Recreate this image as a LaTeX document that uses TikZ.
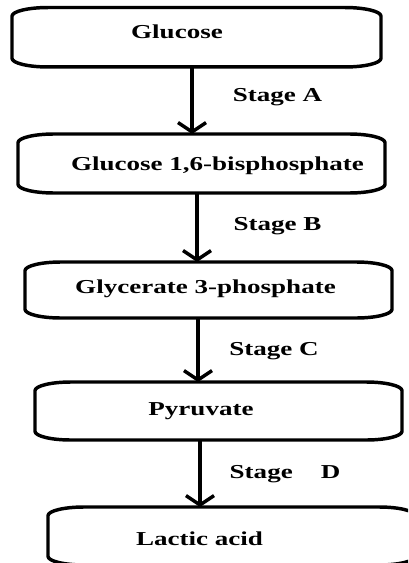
\documentclass[tikz,border=0pt]{standalone}
\usepackage{fontspec}
\newfontfamily\lblfont[FakeStretch=1.37]{Liberation Serif}
\usetikzlibrary{arrows.meta,calc}
\tikzset{
  boxarea/.style={draw=none, inner sep=0pt, outer sep=0pt, minimum width=275.25pt},
  outline/.style={line width=2.6pt, line join=round},
  flowarrow/.style={line width=2.6pt, -{Straight Barb[length=7pt,width=21pt]}},
  lbl/.style={anchor=base, inner sep=0pt, font=\lblfont\bfseries\fontsize{14.8pt}{17pt}\selectfont}
}
\newcommand\termoutline[1]{%
  \draw[outline] ([xshift=27pt]#1.north west) -- ([xshift=-27pt]#1.north east)
    arc[start angle=90,end angle=0,x radius=27pt,y radius=6.5pt]
    -- ([yshift=6.5pt]#1.south east)
    arc[start angle=0,end angle=-90,x radius=27pt,y radius=6.5pt]
    -- ([xshift=27pt]#1.south west)
    arc[start angle=270,end angle=180,x radius=27pt,y radius=6.5pt]
    -- ([yshift=-6.5pt]#1.north west)
    arc[start angle=180,end angle=90,x radius=27pt,y radius=6.5pt] -- cycle;}
\begin{document}
\begin{tikzpicture}[x=0.75pt,y=-0.75pt]
  \useasboundingbox (0,0) rectangle (408,563);
  \clip (0,0) rectangle (408,563);
  \fill[white] (0,0) rectangle (408,563);
  % box areas
  \node[boxarea, minimum width=276.75pt, minimum height=44.6pt] (b1) at (196.5,37.25) {};
  \node[boxarea, minimum height=44.25pt] (b2) at (201.5,163.5) {};
  \node[boxarea, minimum height=42pt] (b3) at (208.5,290) {};
  \node[boxarea, minimum height=43.5pt] (b4) at (218.5,411) {};
  \node[boxarea, minimum height=43.5pt] (b5) at (231.5,536) {};
  \termoutline{b1}
  \termoutline{b2}
  \termoutline{b3}
  \termoutline{b4}
  \termoutline{b5}
  % texts
  \node[lbl] (t1) at (177,39) {Glucose};
  \node[lbl] (t2) at (217.5,170) {Glucose 1,6-bisphosphate};
  \node[lbl] (t3) at (205.5,293) {Glycerate 3-phosphate};
  \node[lbl] (t4) at (201,415) {Pyruvate};
  \node[lbl] (t5) at (199.5,545) {Lactic acid};
  \node[lbl] (sa) at (277.5,101.5) {Stage A};
  \node[lbl] (sb) at (277.5,230) {Stage B};
  \node[lbl] (sc) at (274,355) {Stage C};
  \node[lbl] (sd) at (285,478) {Stage\hspace{21pt}D};
  % arrows
  \coordinate (ax1) at (192,0);
  \coordinate (ax2) at (197,0);
  \coordinate (ax3) at (198,0);
  \coordinate (ax4) at (200,0);
  \draw[flowarrow] (b1.south -| ax1) -- (b2.north -| ax1);
  \draw[flowarrow] (b2.south -| ax2) -- (b3.north -| ax2);
  \draw[flowarrow] (b3.south -| ax3) -- (b4.north -| ax3);
  \draw[flowarrow] (b4.south -| ax4) -- (b5.north -| ax4);
\end{tikzpicture}
\end{document}
